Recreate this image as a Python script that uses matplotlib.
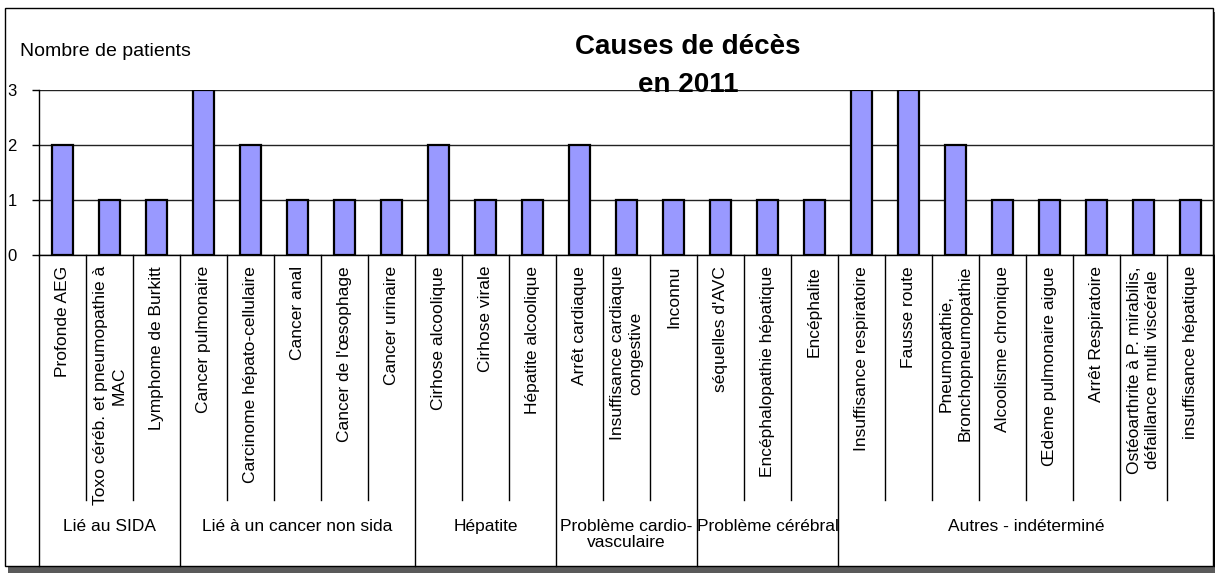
import matplotlib
matplotlib.use("Agg")
import matplotlib.pyplot as plt
from matplotlib import font_manager
from matplotlib.patches import Rectangle

# DATA
categories = [
    "Profonde AEG",
    "Toxo céréb. et pneumopathie à\nMAC",
    "Lymphome de Burkitt",
    "Cancer pulmonaire",
    "Carcinome hépato-cellulaire",
    "Cancer anal",
    "Cancer de l'œsophage",
    "Cancer urinaire",
    "Cirhose alcoolique",
    "Cirhose virale",
    "Hépatite alcoolique",
    "Arrêt cardiaque",
    "Insuffisance cardiaque\ncongestive",
    "Inconnu",
    "séquelles d'AVC",
    "Encéphalopathie hépatique",
    "Encéphalite",
    "Insuffisance respiratoire",
    "Fausse route",
    "Pneumopathie,\nBronchopneumopathie",
    "Alcoolisme chronique",
    "Œdème pulmonaire aigue",
    "Arrêt Respiratoire",
    "Ostéoarthrite à P. mirabilis,\ndéfaillance multi viscérale",
    "insuffisance hépatique",
]
patients = [2, 1, 1, 3, 2, 1, 1, 1, 2, 1, 1, 2, 1, 1, 1, 1, 1, 3, 3, 2, 1, 1, 1, 1, 1]
groups = [
    "Lié au SIDA",
    "Lié à un cancer non sida",
    "Hépatite",
    "Problème cardio-\nvasculaire",
    "Problème cérébral",
    "Autres - indéterminé",
]
group_sizes = [3, 5, 3, 3, 3, 8]
y_ticks = [0, 1, 2, 3]

# FONTS (narrow face if present, it fits the squeezed look of the original)
names = {f.name for f in font_manager.fontManager.ttflist}
if "Liberation Sans Narrow" in names:
    LABEL_FONT, LABEL_SIZE, TITLE_SIZE, TICK_SIZE = "Liberation Sans Narrow", 14.5, 24, 13
else:
    LABEL_FONT, LABEL_SIZE, TITLE_SIZE, TICK_SIZE = "Liberation Sans", 12.5, 20, 12
plt.rcParams["font.family"] = ["Liberation Sans", "DejaVu Sans"]

W, H = 1215, 573
fig = plt.figure(figsize=(W / 100, H / 100), dpi=100)
fig.patch.set_facecolor("white")

# OUTER FRAME WITH SHADOW
fig.patches.append(Rectangle((8 / W, 0), 1207 / W, (H - 12) / H, transform=fig.transFigure,
                             facecolor="#5a5a5a", edgecolor="none", zorder=0))
fig.patches.append(Rectangle((5 / W, (H - 566) / H), 1208 / W, 558 / H, transform=fig.transFigure,
                             facecolor="white", edgecolor="black", linewidth=1, zorder=1))

# AXES
ax_left, ax_right, ax_top, ax_bottom = 39, 1214, 90, 255
ax = fig.add_axes([ax_left / W, (H - ax_bottom) / H, (ax_right - ax_left) / W, (ax_bottom - ax_top) / H])
ax.set_facecolor("none")
ax.set_zorder(2)

n = len(categories)
x = [i + 0.5 for i in range(n)]
ax.bar(x, patients, width=0.43, color="#9999FF", edgecolor="black", linewidth=1.6, zorder=3)

ax.set_xlim(0, n)
ax.set_ylim(0, 3)
ax.set_xticks([])
ax.set_yticks(y_ticks)
ax.tick_params(axis="y", length=5, width=1, pad=11, labelsize=TICK_SIZE)
for lab in ax.get_yticklabels():
    lab.set_fontfamily(LABEL_FONT)
ax.grid(axis="y", color="#222222", linewidth=1)
ax.set_axisbelow(True)
for side in ["top", "right"]:
    ax.spines[side].set_visible(False)
ax.spines["left"].set_linewidth(1)
ax.spines["bottom"].set_linewidth(1)

# HIERARCHICAL CATEGORY AXIS
px = lambda y_pix: (ax_bottom - y_pix) / (ax_bottom - ax_top)
trans = ax.get_xaxis_transform()
bounds = [0]
for s in group_sizes:
    bounds.append(bounds[-1] + s)
for b in range(1, n):
    if b not in bounds:
        ax.plot([b, b], [0, px(500)], transform=trans, color="black", linewidth=1, clip_on=False)
for b in bounds:
    ax.plot([b, b], [0, px(566)], transform=trans, color="black", linewidth=1, clip_on=False)

for xi, label in zip(x, categories):
    ax.text(xi, px(266), label, transform=trans, rotation=90, ha="center", va="top",
            multialignment="center", fontsize=LABEL_SIZE, family=LABEL_FONT, linespacing=1.3)

for g, label in enumerate(groups):
    centre = (bounds[g] + bounds[g + 1]) / 2
    ax.text(centre, px(519), label, transform=trans, ha="center", va="top",
            multialignment="center", fontsize=LABEL_SIZE, family=LABEL_FONT, linespacing=1.1)

# TITLES
fig.text(20 / W, 1 - 52 / H, "Nombre de patients", ha="left", va="center", fontsize=14)
fig.text(688 / W, 1 - 66 / H, "Causes de décès\nen 2011", ha="center", va="center",
         fontsize=TITLE_SIZE, fontweight="bold", family=LABEL_FONT, linespacing=1.55, zorder=5)

plt.savefig("out.png", dpi=100)
